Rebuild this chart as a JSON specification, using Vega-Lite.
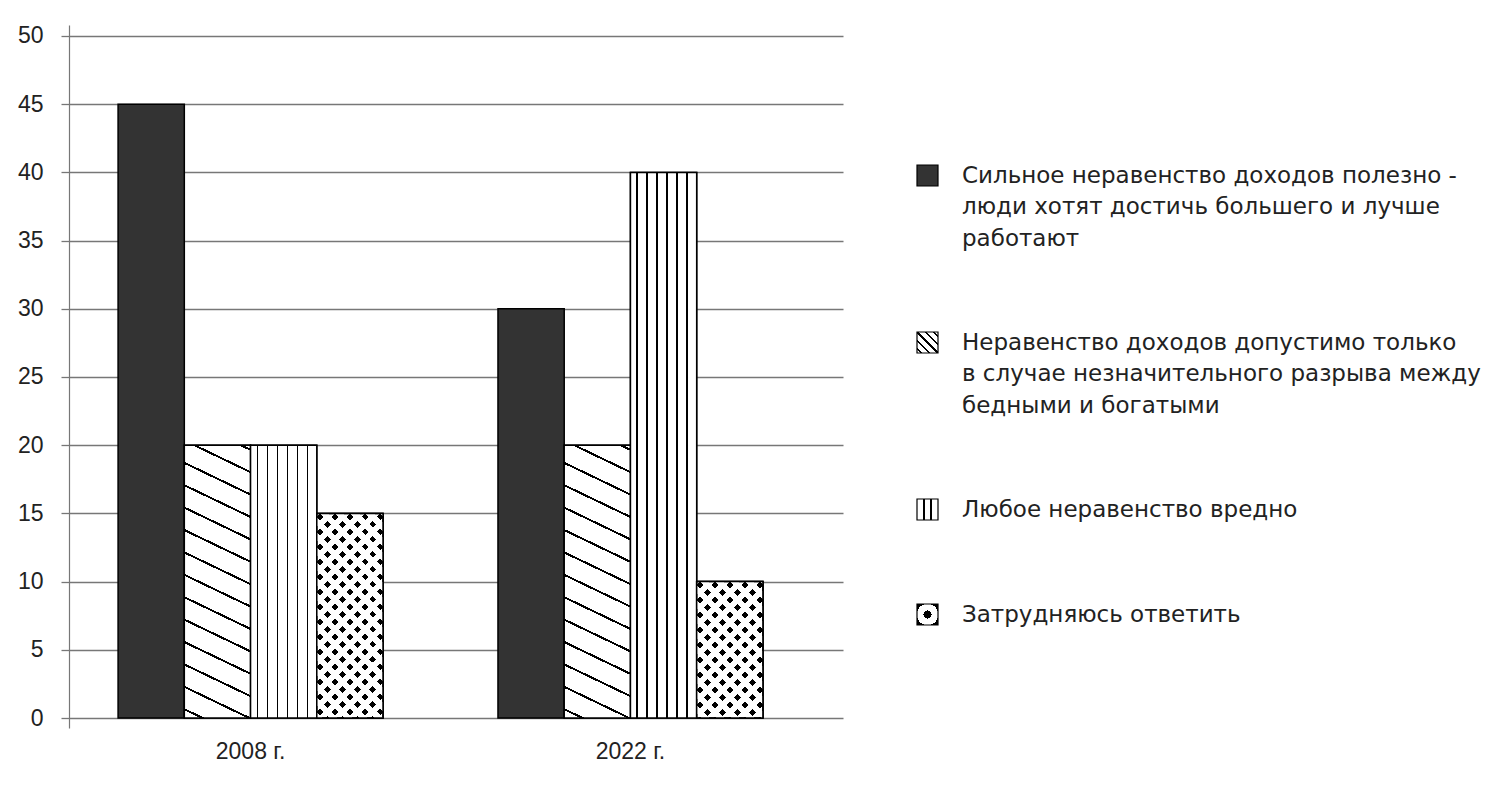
{
  "$schema": "https://vega.github.io/schema/vega-lite/v6.json",
  "width": 774, "height": 703,
  "autosize": "none",
  "padding": {"left": 69, "top": 25, "right": 657, "bottom": 59},
  "data": {"values": [
    {"year": "2008 г.", "answer": "Сильное неравенство доходов полезно -\nлюди хотят достичь большего и лучше\nработают", "share": 45},
    {"year": "2008 г.", "answer": "Неравенство доходов допустимо только\nв случае незначительного разрыва между\nбедными и богатыми", "share": 20},
    {"year": "2008 г.", "answer": "Любое неравенство вредно", "share": 20},
    {"year": "2008 г.", "answer": "Затрудняюсь ответить", "share": 15},
    {"year": "2022 г.", "answer": "Сильное неравенство доходов полезно -\nлюди хотят достичь большего и лучше\nработают", "share": 30},
    {"year": "2022 г.", "answer": "Неравенство доходов допустимо только\nв случае незначительного разрыва между\nбедными и богатыми", "share": 20},
    {"year": "2022 г.", "answer": "Любое неравенство вредно", "share": 40},
    {"year": "2022 г.", "answer": "Затрудняюсь ответить", "share": 10}
  ]},
  "encoding": {
    "x": {
      "field": "year", "type": "nominal", "title": null,
      "scale": {"paddingInner": 0.3026, "paddingOuter": 0.17, "align": 0.38},
      "axis": {"labelAngle": 0, "domain": false, "ticks": false, "tickSize": 0, "labelPadding": 12,
               "labelFont": "Liberation Sans", "labelFontSize": 23, "labelColor": "#222"}
    },
    "xOffset": {
      "field": "answer", "type": "nominal",
      "scale": {"paddingInner": 0, "paddingOuter": 0, "domain": [
        "Сильное неравенство доходов полезно -\nлюди хотят достичь большего и лучше\nработают",
        "Неравенство доходов допустимо только\nв случае незначительного разрыва между\nбедными и богатыми",
        "Любое неравенство вредно",
        "Затрудняюсь ответить"]}
    },
    "y": {
      "field": "share", "type": "quantitative", "title": null,
      "scale": {"domain": [-0.733, 50.806], "nice": false, "zero": false},
      "axis": {"values": [0, 5, 10, 15, 20, 25, 30, 35, 40, 45, 50], "tickSize": 8, "labelPadding": 18,
               "domainColor": "#777", "domainWidth": 1.2, "tickColor": "#777", "tickWidth": 1.3,
               "gridColor": "#777", "gridWidth": 1.3,
               "labelFont": "Liberation Sans", "labelFontSize": 23, "labelColor": "#222"}
    },
    "y2": {"datum": 0}
  },
  "layer": [
    {
      "mark": {"type": "bar", "stroke": "black", "strokeWidth": 1.5},
      "encoding": {
        "fill": {
          "field": "answer", "type": "nominal",
          "scale": {
            "domain": [
              "Сильное неравенство доходов полезно -\nлюди хотят достичь большего и лучше\nработают",
              "Неравенство доходов допустимо только\nв случае незначительного разрыва между\nбедными и богатыми",
              "Любое неравенство вредно",
              "Затрудняюсь ответить"],
            "range": [
              "#333333",
              {"expr": "{gradient: 'linear', x1: 0, y1: 1, x2: 1, y2: 0, stops: [{offset: 0, color: 'white'}, {offset: 0.075, color: 'white'}, {offset: 0.075, color: 'black'}, {offset: 0.125, color: 'black'}, {offset: 0.125, color: 'white'}, {offset: 0.275, color: 'white'}, {offset: 0.275, color: 'black'}, {offset: 0.325, color: 'black'}, {offset: 0.325, color: 'white'}, {offset: 0.475, color: 'white'}, {offset: 0.475, color: 'black'}, {offset: 0.525, color: 'black'}, {offset: 0.525, color: 'white'}, {offset: 0.675, color: 'white'}, {offset: 0.675, color: 'black'}, {offset: 0.725, color: 'black'}, {offset: 0.725, color: 'white'}, {offset: 0.875, color: 'white'}, {offset: 0.875, color: 'black'}, {offset: 0.925, color: 'black'}, {offset: 0.925, color: 'white'}, {offset: 1, color: 'white'}]}"},
              {"expr": "{gradient: 'linear', x1: 0, y1: 0, x2: 1, y2: 0, stops: [{offset: 0, color: 'white'}, {offset: 0.3, color: 'white'}, {offset: 0.3, color: 'black'}, {offset: 0.36, color: 'black'}, {offset: 0.36, color: 'white'}, {offset: 0.64, color: 'white'}, {offset: 0.64, color: 'black'}, {offset: 0.7, color: 'black'}, {offset: 0.7, color: 'white'}, {offset: 1, color: 'white'}]}"},
              {"expr": "{gradient: 'radial', x1: 0.5, y1: 0.5, r1: 0, x2: 0.5, y2: 0.5, r2: 0.71, stops: [{offset: 0, color: 'black'}, {offset: 0.27, color: 'black'}, {offset: 0.27, color: 'white'}, {offset: 0.72, color: 'white'}, {offset: 0.72, color: 'black'}, {offset: 1, color: 'black'}]}"}
            ]
          },
          "legend": {
            "title": null, "orient": "none", "legendX": 847, "legendY": 139,
            "symbolType": "square", "symbolSize": 441, "symbolStrokeColor": "black", "symbolStrokeWidth": 1.2,
            "labelFont": "DejaVu Sans", "labelFontSize": 23, "labelColor": "#222", "labelOffset": 23,
            "labelLimit": 800, "rowPadding": 78,
            "labelExpr": "split(datum.label, '\\n')"
          }
        }
      }
    },
    {
      "transform": [{"filter": {"field": "answer", "equal": "Неравенство доходов допустимо только\nв случае незначительного разрыва между\nбедными и богатыми"}}],
      "mark": {"type": "bar", "stroke": "black", "strokeWidth": 1.5,
        "fill": {"gradient": "linear", "x1": 1, "y1": 0, "x2": 0.87165, "y2": 1.10157, "stops": [
          {"offset": 0, "color": "white"},
          {"offset": 0.0114, "color": "white"}, {"offset": 0.0114, "color": "black"}, {"offset": 0.0188, "color": "black"}, {"offset": 0.0188, "color": "white"},
          {"offset": 0.0849, "color": "white"}, {"offset": 0.0849, "color": "black"}, {"offset": 0.0923, "color": "black"}, {"offset": 0.0923, "color": "white"},
          {"offset": 0.1585, "color": "white"}, {"offset": 0.1585, "color": "black"}, {"offset": 0.1659, "color": "black"}, {"offset": 0.1659, "color": "white"},
          {"offset": 0.2320, "color": "white"}, {"offset": 0.2320, "color": "black"}, {"offset": 0.2394, "color": "black"}, {"offset": 0.2394, "color": "white"},
          {"offset": 0.3055, "color": "white"}, {"offset": 0.3055, "color": "black"}, {"offset": 0.3129, "color": "black"}, {"offset": 0.3129, "color": "white"},
          {"offset": 0.3791, "color": "white"}, {"offset": 0.3791, "color": "black"}, {"offset": 0.3865, "color": "black"}, {"offset": 0.3865, "color": "white"},
          {"offset": 0.4526, "color": "white"}, {"offset": 0.4526, "color": "black"}, {"offset": 0.4600, "color": "black"}, {"offset": 0.4600, "color": "white"},
          {"offset": 0.5261, "color": "white"}, {"offset": 0.5261, "color": "black"}, {"offset": 0.5335, "color": "black"}, {"offset": 0.5335, "color": "white"},
          {"offset": 0.5997, "color": "white"}, {"offset": 0.5997, "color": "black"}, {"offset": 0.6071, "color": "black"}, {"offset": 0.6071, "color": "white"},
          {"offset": 0.6732, "color": "white"}, {"offset": 0.6732, "color": "black"}, {"offset": 0.6806, "color": "black"}, {"offset": 0.6806, "color": "white"},
          {"offset": 0.7468, "color": "white"}, {"offset": 0.7468, "color": "black"}, {"offset": 0.7542, "color": "black"}, {"offset": 0.7542, "color": "white"},
          {"offset": 0.8203, "color": "white"}, {"offset": 0.8203, "color": "black"}, {"offset": 0.8277, "color": "black"}, {"offset": 0.8277, "color": "white"},
          {"offset": 0.8938, "color": "white"}, {"offset": 0.8938, "color": "black"}, {"offset": 0.9012, "color": "black"}, {"offset": 0.9012, "color": "white"},
          {"offset": 0.9674, "color": "white"}, {"offset": 0.9674, "color": "black"}, {"offset": 0.9748, "color": "black"}, {"offset": 0.9748, "color": "white"},
          {"offset": 1, "color": "white"}]}
      }
    },
    {
      "transform": [{"filter": {"field": "answer", "equal": "Любое неравенство вредно"}}],
      "mark": {"type": "bar", "stroke": "black", "strokeWidth": 1.5,
        "fill": {"gradient": "linear", "x1": 0, "y1": 0, "x2": 1, "y2": 0, "stops": [
          {"offset": 0, "color": "white"},
          {"offset": 0.0902, "color": "white"}, {"offset": 0.0902, "color": "black"}, {"offset": 0.1092, "color": "black"}, {"offset": 0.1092, "color": "white"},
          {"offset": 0.2412, "color": "white"}, {"offset": 0.2412, "color": "black"}, {"offset": 0.2602, "color": "black"}, {"offset": 0.2602, "color": "white"},
          {"offset": 0.3922, "color": "white"}, {"offset": 0.3922, "color": "black"}, {"offset": 0.4112, "color": "black"}, {"offset": 0.4112, "color": "white"},
          {"offset": 0.5432, "color": "white"}, {"offset": 0.5432, "color": "black"}, {"offset": 0.5622, "color": "black"}, {"offset": 0.5622, "color": "white"},
          {"offset": 0.6942, "color": "white"}, {"offset": 0.6942, "color": "black"}, {"offset": 0.7132, "color": "black"}, {"offset": 0.7132, "color": "white"},
          {"offset": 0.8452, "color": "white"}, {"offset": 0.8452, "color": "black"}, {"offset": 0.8642, "color": "black"}, {"offset": 0.8642, "color": "white"},
          {"offset": 1, "color": "white"}]}
      }
    },
    {
      "transform": [{"filter": {"field": "answer", "equal": "Затрудняюсь ответить"}}],
      "mark": {"type": "bar", "stroke": "black", "strokeWidth": 1.5},
      "encoding": {
        "fill": {
          "condition": {"test": "datum.year === '2008 г.'", "value": {"gradient": "linear", "x1": 0, "y1": 0, "x2": 0.38779, "y2": 1.19816, "stops": [
            {"offset": 0, "color": "white"},
            {"offset": 0.013293, "color": "white"}, {"offset": 0.013293, "color": "black"}, {"offset": 0.038402, "color": "black"}, {"offset": 0.038402, "color": "white"},
            {"offset": 0.068680, "color": "white"}, {"offset": 0.068680, "color": "black"}, {"offset": 0.093790, "color": "black"}, {"offset": 0.093790, "color": "white"},
            {"offset": 0.124068, "color": "white"}, {"offset": 0.124068, "color": "black"}, {"offset": 0.149177, "color": "black"}, {"offset": 0.149177, "color": "white"},
            {"offset": 0.179455, "color": "white"}, {"offset": 0.179455, "color": "black"}, {"offset": 0.204565, "color": "black"}, {"offset": 0.204565, "color": "white"},
            {"offset": 0.234843, "color": "white"}, {"offset": 0.234843, "color": "black"}, {"offset": 0.259952, "color": "black"}, {"offset": 0.259952, "color": "white"},
            {"offset": 0.290230, "color": "white"}, {"offset": 0.290230, "color": "black"}, {"offset": 0.315340, "color": "black"}, {"offset": 0.315340, "color": "white"},
            {"offset": 0.345618, "color": "white"}, {"offset": 0.345618, "color": "black"}, {"offset": 0.370727, "color": "black"}, {"offset": 0.370727, "color": "white"},
            {"offset": 0.401006, "color": "white"}, {"offset": 0.401006, "color": "black"}, {"offset": 0.426115, "color": "black"}, {"offset": 0.426115, "color": "white"},
            {"offset": 0.456393, "color": "white"}, {"offset": 0.456393, "color": "black"}, {"offset": 0.481502, "color": "black"}, {"offset": 0.481502, "color": "white"},
            {"offset": 0.511781, "color": "white"}, {"offset": 0.511781, "color": "black"}, {"offset": 0.536890, "color": "black"}, {"offset": 0.536890, "color": "white"},
            {"offset": 0.567168, "color": "white"}, {"offset": 0.567168, "color": "black"}, {"offset": 0.592277, "color": "black"}, {"offset": 0.592277, "color": "white"},
            {"offset": 0.622556, "color": "white"}, {"offset": 0.622556, "color": "black"}, {"offset": 0.647665, "color": "black"}, {"offset": 0.647665, "color": "white"},
            {"offset": 0.677943, "color": "white"}, {"offset": 0.677943, "color": "black"}, {"offset": 0.703053, "color": "black"}, {"offset": 0.703053, "color": "white"},
            {"offset": 0.733331, "color": "white"}, {"offset": 0.733331, "color": "black"}, {"offset": 0.758440, "color": "black"}, {"offset": 0.758440, "color": "white"},
            {"offset": 0.788718, "color": "white"}, {"offset": 0.788718, "color": "black"}, {"offset": 0.813828, "color": "black"}, {"offset": 0.813828, "color": "white"},
            {"offset": 0.844106, "color": "white"}, {"offset": 0.844106, "color": "black"}, {"offset": 0.869215, "color": "black"}, {"offset": 0.869215, "color": "white"},
            {"offset": 0.899493, "color": "white"}, {"offset": 0.899493, "color": "black"}, {"offset": 0.924603, "color": "black"}, {"offset": 0.924603, "color": "white"},
            {"offset": 0.954881, "color": "white"}, {"offset": 0.954881, "color": "black"}, {"offset": 0.979990, "color": "black"}, {"offset": 0.979990, "color": "white"},
            {"offset": 1, "color": "white"}]}},
          "value": {"gradient": "linear", "x1": 0, "y1": 0, "x2": 0.58362, "y2": 1.20215, "stops": [
            {"offset": 0, "color": "white"},
            {"offset": 0.017767, "color": "white"}, {"offset": 0.017767, "color": "black"}, {"offset": 0.051328, "color": "black"}, {"offset": 0.051328, "color": "white"},
            {"offset": 0.091798, "color": "white"}, {"offset": 0.091798, "color": "black"}, {"offset": 0.125359, "color": "black"}, {"offset": 0.125359, "color": "white"},
            {"offset": 0.165829, "color": "white"}, {"offset": 0.165829, "color": "black"}, {"offset": 0.199390, "color": "black"}, {"offset": 0.199390, "color": "white"},
            {"offset": 0.239860, "color": "white"}, {"offset": 0.239860, "color": "black"}, {"offset": 0.273421, "color": "black"}, {"offset": 0.273421, "color": "white"},
            {"offset": 0.313891, "color": "white"}, {"offset": 0.313891, "color": "black"}, {"offset": 0.347452, "color": "black"}, {"offset": 0.347452, "color": "white"},
            {"offset": 0.387922, "color": "white"}, {"offset": 0.387922, "color": "black"}, {"offset": 0.421483, "color": "black"}, {"offset": 0.421483, "color": "white"},
            {"offset": 0.461953, "color": "white"}, {"offset": 0.461953, "color": "black"}, {"offset": 0.495514, "color": "black"}, {"offset": 0.495514, "color": "white"},
            {"offset": 0.535984, "color": "white"}, {"offset": 0.535984, "color": "black"}, {"offset": 0.569545, "color": "black"}, {"offset": 0.569545, "color": "white"},
            {"offset": 0.610015, "color": "white"}, {"offset": 0.610015, "color": "black"}, {"offset": 0.643576, "color": "black"}, {"offset": 0.643576, "color": "white"},
            {"offset": 0.684046, "color": "white"}, {"offset": 0.684046, "color": "black"}, {"offset": 0.717607, "color": "black"}, {"offset": 0.717607, "color": "white"},
            {"offset": 0.758077, "color": "white"}, {"offset": 0.758077, "color": "black"}, {"offset": 0.791638, "color": "black"}, {"offset": 0.791638, "color": "white"},
            {"offset": 0.832108, "color": "white"}, {"offset": 0.832108, "color": "black"}, {"offset": 0.865669, "color": "black"}, {"offset": 0.865669, "color": "white"},
            {"offset": 0.906139, "color": "white"}, {"offset": 0.906139, "color": "black"}, {"offset": 0.939700, "color": "black"}, {"offset": 0.939700, "color": "white"},
            {"offset": 0.980170, "color": "white"}, {"offset": 0.980170, "color": "black"}, {"offset": 1, "color": "black"}]}
        }
      }
    },
    {
      "transform": [{"filter": {"field": "answer", "equal": "Затрудняюсь ответить"}}],
      "mark": {"type": "bar", "stroke": "black", "strokeWidth": 1.5},
      "encoding": {
        "fill": {
          "condition": {"test": "datum.year === '2008 г.'", "value": {"gradient": "linear", "x1": 0, "y1": 1, "x2": 0.38779, "y2": -0.19816, "stops": [
            {"offset": 0, "color": "white"},
            {"offset": 0.022894, "color": "white"}, {"offset": 0.022894, "color": "rgba(255,255,255,0)"}, {"offset": 0.048003, "color": "rgba(255,255,255,0)"}, {"offset": 0.048003, "color": "white"},
            {"offset": 0.078281, "color": "white"}, {"offset": 0.078281, "color": "rgba(255,255,255,0)"}, {"offset": 0.103390, "color": "rgba(255,255,255,0)"}, {"offset": 0.103390, "color": "white"},
            {"offset": 0.133669, "color": "white"}, {"offset": 0.133669, "color": "rgba(255,255,255,0)"}, {"offset": 0.158778, "color": "rgba(255,255,255,0)"}, {"offset": 0.158778, "color": "white"},
            {"offset": 0.189056, "color": "white"}, {"offset": 0.189056, "color": "rgba(255,255,255,0)"}, {"offset": 0.214165, "color": "rgba(255,255,255,0)"}, {"offset": 0.214165, "color": "white"},
            {"offset": 0.244444, "color": "white"}, {"offset": 0.244444, "color": "rgba(255,255,255,0)"}, {"offset": 0.269553, "color": "rgba(255,255,255,0)"}, {"offset": 0.269553, "color": "white"},
            {"offset": 0.299831, "color": "white"}, {"offset": 0.299831, "color": "rgba(255,255,255,0)"}, {"offset": 0.324940, "color": "rgba(255,255,255,0)"}, {"offset": 0.324940, "color": "white"},
            {"offset": 0.355219, "color": "white"}, {"offset": 0.355219, "color": "rgba(255,255,255,0)"}, {"offset": 0.380328, "color": "rgba(255,255,255,0)"}, {"offset": 0.380328, "color": "white"},
            {"offset": 0.410606, "color": "white"}, {"offset": 0.410606, "color": "rgba(255,255,255,0)"}, {"offset": 0.435715, "color": "rgba(255,255,255,0)"}, {"offset": 0.435715, "color": "white"},
            {"offset": 0.465994, "color": "white"}, {"offset": 0.465994, "color": "rgba(255,255,255,0)"}, {"offset": 0.491103, "color": "rgba(255,255,255,0)"}, {"offset": 0.491103, "color": "white"},
            {"offset": 0.521381, "color": "white"}, {"offset": 0.521381, "color": "rgba(255,255,255,0)"}, {"offset": 0.546490, "color": "rgba(255,255,255,0)"}, {"offset": 0.546490, "color": "white"},
            {"offset": 0.576769, "color": "white"}, {"offset": 0.576769, "color": "rgba(255,255,255,0)"}, {"offset": 0.601878, "color": "rgba(255,255,255,0)"}, {"offset": 0.601878, "color": "white"},
            {"offset": 0.632156, "color": "white"}, {"offset": 0.632156, "color": "rgba(255,255,255,0)"}, {"offset": 0.657265, "color": "rgba(255,255,255,0)"}, {"offset": 0.657265, "color": "white"},
            {"offset": 0.687544, "color": "white"}, {"offset": 0.687544, "color": "rgba(255,255,255,0)"}, {"offset": 0.712653, "color": "rgba(255,255,255,0)"}, {"offset": 0.712653, "color": "white"},
            {"offset": 0.742931, "color": "white"}, {"offset": 0.742931, "color": "rgba(255,255,255,0)"}, {"offset": 0.768040, "color": "rgba(255,255,255,0)"}, {"offset": 0.768040, "color": "white"},
            {"offset": 0.798319, "color": "white"}, {"offset": 0.798319, "color": "rgba(255,255,255,0)"}, {"offset": 0.823428, "color": "rgba(255,255,255,0)"}, {"offset": 0.823428, "color": "white"},
            {"offset": 0.853706, "color": "white"}, {"offset": 0.853706, "color": "rgba(255,255,255,0)"}, {"offset": 0.878815, "color": "rgba(255,255,255,0)"}, {"offset": 0.878815, "color": "white"},
            {"offset": 0.909094, "color": "white"}, {"offset": 0.909094, "color": "rgba(255,255,255,0)"}, {"offset": 0.934203, "color": "rgba(255,255,255,0)"}, {"offset": 0.934203, "color": "white"},
            {"offset": 0.964481, "color": "white"}, {"offset": 0.964481, "color": "rgba(255,255,255,0)"}, {"offset": 0.989590, "color": "rgba(255,255,255,0)"}, {"offset": 0.989590, "color": "white"},
            {"offset": 1, "color": "white"}]}},
          "value": {"gradient": "linear", "x1": 0, "y1": 1, "x2": 0.58362, "y2": -0.20215, "stops": [
            {"offset": 0, "color": "rgba(255,255,255,0)"}, {"offset": 0.023690, "color": "rgba(255,255,255,0)"}, {"offset": 0.023690, "color": "white"},
            {"offset": 0.064160, "color": "white"}, {"offset": 0.064160, "color": "rgba(255,255,255,0)"}, {"offset": 0.097721, "color": "rgba(255,255,255,0)"}, {"offset": 0.097721, "color": "white"},
            {"offset": 0.138191, "color": "white"}, {"offset": 0.138191, "color": "rgba(255,255,255,0)"}, {"offset": 0.171752, "color": "rgba(255,255,255,0)"}, {"offset": 0.171752, "color": "white"},
            {"offset": 0.212222, "color": "white"}, {"offset": 0.212222, "color": "rgba(255,255,255,0)"}, {"offset": 0.245783, "color": "rgba(255,255,255,0)"}, {"offset": 0.245783, "color": "white"},
            {"offset": 0.286253, "color": "white"}, {"offset": 0.286253, "color": "rgba(255,255,255,0)"}, {"offset": 0.319814, "color": "rgba(255,255,255,0)"}, {"offset": 0.319814, "color": "white"},
            {"offset": 0.360284, "color": "white"}, {"offset": 0.360284, "color": "rgba(255,255,255,0)"}, {"offset": 0.393845, "color": "rgba(255,255,255,0)"}, {"offset": 0.393845, "color": "white"},
            {"offset": 0.434315, "color": "white"}, {"offset": 0.434315, "color": "rgba(255,255,255,0)"}, {"offset": 0.467876, "color": "rgba(255,255,255,0)"}, {"offset": 0.467876, "color": "white"},
            {"offset": 0.508346, "color": "white"}, {"offset": 0.508346, "color": "rgba(255,255,255,0)"}, {"offset": 0.541907, "color": "rgba(255,255,255,0)"}, {"offset": 0.541907, "color": "white"},
            {"offset": 0.582377, "color": "white"}, {"offset": 0.582377, "color": "rgba(255,255,255,0)"}, {"offset": 0.615938, "color": "rgba(255,255,255,0)"}, {"offset": 0.615938, "color": "white"},
            {"offset": 0.656408, "color": "white"}, {"offset": 0.656408, "color": "rgba(255,255,255,0)"}, {"offset": 0.689969, "color": "rgba(255,255,255,0)"}, {"offset": 0.689969, "color": "white"},
            {"offset": 0.730439, "color": "white"}, {"offset": 0.730439, "color": "rgba(255,255,255,0)"}, {"offset": 0.764000, "color": "rgba(255,255,255,0)"}, {"offset": 0.764000, "color": "white"},
            {"offset": 0.804470, "color": "white"}, {"offset": 0.804470, "color": "rgba(255,255,255,0)"}, {"offset": 0.838031, "color": "rgba(255,255,255,0)"}, {"offset": 0.838031, "color": "white"},
            {"offset": 0.878501, "color": "white"}, {"offset": 0.878501, "color": "rgba(255,255,255,0)"}, {"offset": 0.912062, "color": "rgba(255,255,255,0)"}, {"offset": 0.912062, "color": "white"},
            {"offset": 0.952532, "color": "white"}, {"offset": 0.952532, "color": "rgba(255,255,255,0)"}, {"offset": 0.986093, "color": "rgba(255,255,255,0)"}, {"offset": 0.986093, "color": "white"},
            {"offset": 1, "color": "white"}]}
        }
      }
    }
  ],
  "config": {
    "view": {"stroke": null},
    "style": {"guide-label": {"lineHeight": 31.5}}
  }
}
